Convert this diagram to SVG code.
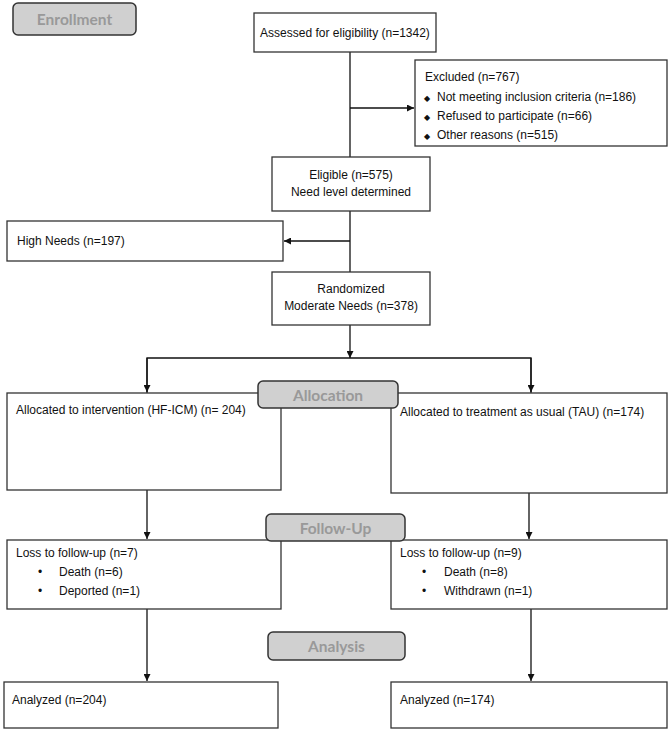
<svg xmlns="http://www.w3.org/2000/svg" width="671" height="730" viewBox="0 0 671 730">
<defs>
<style>
.box{fill:#fff;stroke:#333;stroke-width:1.3}
.phase{fill:#d0d0d0;stroke:#333;stroke-width:1.5}
.t{font-family:"Liberation Sans",Arial,sans-serif;font-size:12px;fill:#111}
.p{font-family:Lato,"Liberation Sans",sans-serif;font-weight:bold;font-size:15.5px;fill:#999;text-anchor:middle}
.c{text-anchor:middle}
.ln{fill:none;stroke:#111;stroke-width:1.3}
</style>
<marker id="ah" viewBox="0 0 10 10" refX="10" refY="5" markerWidth="7" markerHeight="7" markerUnits="userSpaceOnUse" orient="auto">
<path d="M0,0 L10,5 L0,10 z" fill="#111"/>
</marker>
</defs>
<g id="connectors">
<line class="ln" x1="350" y1="52" x2="350" y2="157"/>
<line class="ln" x1="350" y1="108" x2="414" y2="108" marker-end="url(#ah)"/>
<line class="ln" x1="350" y1="211" x2="350" y2="272"/>
<line class="ln" x1="350" y1="241" x2="284" y2="241" marker-end="url(#ah)"/>
<line class="ln" x1="350" y1="325" x2="350" y2="358" marker-end="url(#ah)"/>
<polyline class="ln" points="147,393 147,358 531,358 531,393"/>
<line class="ln" x1="147" y1="358" x2="147" y2="392" marker-end="url(#ah)"/>
<line class="ln" x1="531" y1="358" x2="531" y2="392" marker-end="url(#ah)"/>
<line class="ln" x1="147" y1="490" x2="147" y2="539" marker-end="url(#ah)"/>
<line class="ln" x1="529" y1="493" x2="529" y2="539" marker-end="url(#ah)"/>
<line class="ln" x1="147" y1="609" x2="147" y2="681" marker-end="url(#ah)"/>
<line class="ln" x1="531" y1="609" x2="531" y2="681" marker-end="url(#ah)"/>
</g>
<g id="enrollment">
<rect class="phase" x="13" y="3" width="123" height="32" rx="5"/>
<text class="p" x="74.5" y="24.5">Enrollment</text>
</g>
<g id="assessed">
<rect class="box" x="254" y="13" width="182" height="39"/>
<text class="t c" x="345" y="36.5">Assessed for eligibility (n=1342)</text>
</g>
<g id="excluded">
<rect class="box" x="415" y="60" width="252" height="86"/>
<text class="t" x="425" y="81">Excluded (n=767)</text>
<text class="t" x="424" y="101"><tspan font-size="8">◆</tspan><tspan x="437">Not meeting inclusion criteria (n=186)</tspan></text>
<text class="t" x="424" y="120"><tspan font-size="8">◆</tspan><tspan x="437">Refused to participate  (n=66)</tspan></text>
<text class="t" x="424" y="139"><tspan font-size="8">◆</tspan><tspan x="437">Other reasons (n=515)</tspan></text>
</g>
<g id="eligible">
<rect class="box" x="272" y="157" width="158" height="54"/>
<text class="t c" x="351" y="179">Eligible (n=575)</text>
<text class="t c" x="351" y="196">Need level determined</text>
</g>
<g id="high-needs">
<rect class="box" x="7" y="221" width="276" height="40"/>
<text class="t" x="17" y="245">High Needs (n=197)</text>
</g>
<g id="randomized">
<rect class="box" x="272" y="272" width="158" height="53"/>
<text class="t c" x="351" y="293">Randomized</text>
<text class="t c" x="351" y="310">Moderate Needs (n=378)</text>
</g>
<g id="alloc-int">
<rect class="box" x="7" y="393" width="274" height="97"/>
<text class="t" x="16" y="414">Allocated to intervention (HF-ICM) (n= 204)</text>
</g>
<g id="alloc-tau">
<rect class="box" x="391" y="393" width="276" height="100"/>
<text class="t" x="400" y="416">Allocated to treatment as usual (TAU) (n=174)</text>
</g>
<g id="allocation">
<rect class="phase" x="258" y="381" width="140" height="27" rx="5"/>
<text class="p" x="328" y="401">Allocation</text>
</g>
<g id="loss-int">
<rect class="box" x="7" y="540" width="274" height="69"/>
<text class="t" x="16" y="557">Loss to follow-up (n=7)</text>
<text class="t" x="38" y="576">•</text><text class="t" x="59" y="576">Death (n=6)</text>
<text class="t" x="38" y="595">•</text><text class="t" x="59" y="595">Deported (n=1)</text>
</g>
<g id="loss-tau">
<rect class="box" x="391" y="540" width="276" height="69"/>
<text class="t" x="400" y="557">Loss to follow-up (n=9)</text>
<text class="t" x="422" y="576">•</text><text class="t" x="444" y="576">Death (n=8)</text>
<text class="t" x="422" y="595">•</text><text class="t" x="444" y="595">Withdrawn (n=1)</text>
</g>
<g id="follow-up">
<rect class="phase" x="266" y="514" width="139" height="27" rx="5"/>
<text class="p" x="335.5" y="533.5">Follow-Up</text>
</g>
<g id="analyzed-int">
<rect class="box" x="4" y="682" width="274" height="46"/>
<text class="t" x="12" y="704">Analyzed (n=204)</text>
</g>
<g id="analyzed-tau">
<rect class="box" x="391" y="682" width="276" height="46"/>
<text class="t" x="400" y="704">Analyzed (n=174)</text>
</g>
<g id="analysis">
<rect class="phase" x="268" y="632" width="137" height="28" rx="5"/>
<text class="p" x="336.5" y="652">Analysis</text>
</g>
</svg>
